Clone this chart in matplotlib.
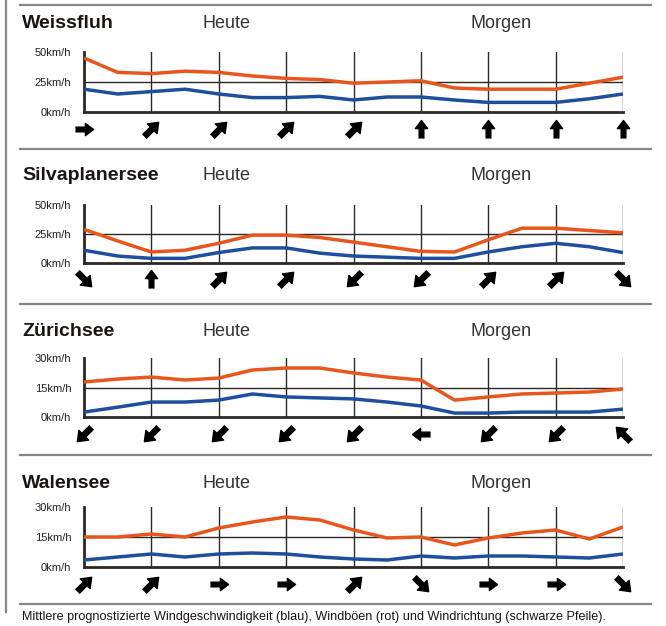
import numpy as np
import matplotlib.pyplot as plt

# Daten: 17 Zeitpunkte (halbe Schritte zwischen den 9 Pfeilen)
stationen = ["Weissfluh", "Silvaplanersee", "Zürichsee", "Walensee"]
ymax = [50, 50, 30, 30]

boeen = [
    [45, 33, 32, 34, 33, 30, 28, 27, 24, 25, 26, 20, 19, 19, 19, 24, 29],
    [29, 19, 9.5, 11, 17, 24, 24, 22, 18, 14, 10, 9.5, 20, 30, 30, 28, 26],
    [17.8, 19.3, 20.3, 18.8, 19.8, 23.9, 24.9, 24.9, 22.4, 20.3, 18.8, 8.6, 10.2, 11.7, 12.2, 12.7, 14.2],
    [15, 15, 16.5, 15, 19.5, 22.5, 25, 23.5, 18.5, 14.5, 15, 11, 14.5, 17, 18.5, 14, 20],
]
mittel = [
    [19, 15, 17, 19, 15, 12, 12, 13, 10, 12.5, 12.5, 10, 8, 8, 8, 11, 15],
    [11, 6, 4, 4, 9, 13, 13, 8.5, 6, 5, 4, 4, 9.5, 14, 17, 14, 9],
    [2.5, 5, 7.6, 7.6, 8.6, 11.7, 10.2, 9.7, 9.2, 7.6, 5.6, 2, 2, 2.5, 2.5, 2.5, 4],
    [3.5, 5, 6.5, 5, 6.5, 7, 6.5, 5, 4, 3.5, 5.5, 4.5, 5.5, 5.5, 5, 4.5, 6.5],
]
# Windrichtung der Pfeile in Grad (0 = nach rechts, 90 = nach oben)
richtung = [
    [0, 45, 45, 45, 45, 90, 90, 90, 90],
    [-45, 90, 45, 45, 225, 225, 45, 45, -45],
    [225, 225, 225, 225, 225, 180, 225, 225, 135],
    [45, 45, 0, 0, 45, -45, 0, 0, -45],
]

W, H = 666, 626
plt.rcParams['font.family'] = ['Liberation Sans', 'DejaVu Sans']
fig = plt.figure(figsize=(W / 100, H / 100), dpi=100)

# Hintergrund-Achse in Pixelkoordinaten für Rahmen und Texte
bg = fig.add_axes([0, 0, 1, 1])
bg.set_xlim(0, W)
bg.set_ylim(H, 0)
bg.axis('off')
bg.plot([6, 6], [0, 612], color='#8a8580', lw=1.6)
for y in [5, 149, 304, 455, 604]:
    bg.plot([20, 651], [y, y], color='#8a8580', lw=1.6)

rot = '#e8561c'
blau = '#1d4f9c'

pfeil = np.array([(-1, -0.26), (0.1, -0.26), (0.1, -0.68), (1, 0),
                  (0.1, 0.68), (0.1, 0.26), (-1, 0.26)])

def pfeil_marker(winkel):
    a = np.deg2rad(winkel)
    r = np.array([[np.cos(a), -np.sin(a)], [np.sin(a), np.cos(a)]])
    return [tuple(p) for p in pfeil @ r.T]

oben = [52, 205, 358, 507]
unten = [112, 263, 417, 567]
titel_y = [22, 175, 330, 482]

for i, name in enumerate(stationen):
    links, rechts = 84, 623
    ax = fig.add_axes([links / W, 1 - unten[i] / H, (rechts - links) / W,
                       (unten[i] - oben[i]) / H])
    x = np.arange(len(boeen[i]))
    ax.set_xlim(0, 16)
    ax.set_ylim(0, ymax[i])
    for xv in range(0, 17, 2):
        ax.axvline(xv, color='#2b2825', lw=1.0, zorder=1)
    ax.axhline(ymax[i] / 2, color='#2b2825', lw=1.0, zorder=1)
    ax.plot(x, boeen[i], color=rot, lw=2.5, zorder=3, solid_capstyle='butt')
    ax.plot(x, mittel[i], color=blau, lw=2.5, zorder=3, solid_capstyle='butt')
    for s in ['top', 'right']:
        ax.spines[s].set_visible(False)
    for s in ['left', 'bottom']:
        ax.spines[s].set_linewidth(2)
        ax.spines[s].set_color('#2b2825')
    ax.set_xticks([])
    werte = [0, ymax[i] // 2, ymax[i]]
    ax.set_yticks(werte)
    ax.set_yticklabels([f"{v}km/h" for v in werte], fontsize=8, color='#222222')
    ax.tick_params(axis='y', length=0, pad=9)
    ax.patch.set_alpha(0)

    for k, w in enumerate(richtung[i]):
        ax.plot(2 * k, -0.28 * ymax[i], marker=pfeil_marker(w), markersize=13,
                color='black', clip_on=False, linestyle='none')

    bg.text(22, titel_y[i] + 1, name, fontsize=14, fontweight='bold',
            va='center', ha='left', color='#1a1512')
    bg.text(226, titel_y[i] + 1, "Heute", fontsize=13, va='center',
            ha='center', color='#333333')
    bg.text(501, titel_y[i] + 1, "Morgen", fontsize=13, va='center',
            ha='center', color='#333333')

bg.text(22, 617, "Mittlere prognostizierte Windgeschwindigkeit (blau), Windböen (rot) "
        "und Windrichtung (schwarze Pfeile).", fontsize=9.1, va='center',
        ha='left', color='#1a1512')

fig.savefig('out.png', dpi=100)
